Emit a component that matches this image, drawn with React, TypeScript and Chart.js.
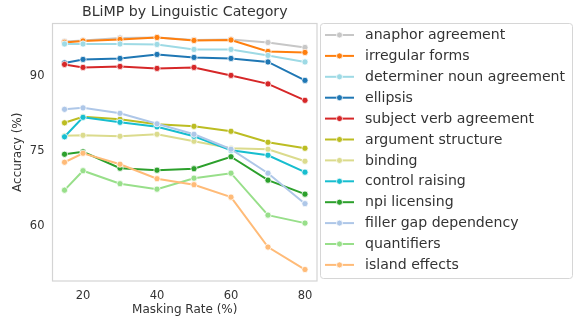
import React, { useEffect, useRef } from "react";
import { Chart, registerables } from "chart.js";

Chart.register(...registerables);

const maskingRates = [15, 20, 30, 40, 50, 60, 70, 80];
const xTicks = [20, 40, 60, 80];
const yTicks = [60, 75, 90];

const seriesNames = [
  "anaphor agreement",
  "irregular forms",
  "determiner noun agreement",
  "ellipsis",
  "subject verb agreement",
  "argument structure",
  "binding",
  "control raising",
  "npi licensing",
  "filler gap dependency",
  "quantifiers",
  "island effects",
];

const seriesColors = [
  "#c7c7c7",
  "#ff7f0e",
  "#9edae5",
  "#1f77b4",
  "#d62728",
  "#bcbd22",
  "#dbdb8d",
  "#17becf",
  "#2ca02c",
  "#aec7e8",
  "#98df8a",
  "#ffbb78",
];

const anaphorAgreement = [96.9, 97.1, 97.6, 97.7, 97.2, 97.3, 96.7, 95.7];
const irregularForms = [96.7, 97.0, 97.3, 97.7, 97.1, 97.2, 94.9, 94.7];
const determinerNounAgreement = [96.4, 96.4, 96.4, 96.3, 95.3, 95.3, 94.1, 92.8];
const ellipsis = [92.6, 93.3, 93.5, 94.3, 93.7, 93.5, 92.8, 89.1];
const subjectVerbAgreement = [92.3, 91.7, 91.9, 91.5, 91.7, 90.1, 88.4, 85.1];
const argumentStructure = [80.6, 81.8, 81.3, 80.3, 79.9, 78.9, 76.7, 75.5];
const binding = [78.0, 78.1, 77.9, 78.3, 76.9, 75.5, 75.3, 72.9];
const controlRaising = [77.8, 81.7, 80.7, 79.8, 77.9, 75.1, 74.1, 70.7];
const npiLicensing = [74.3, 74.8, 71.5, 71.1, 71.4, 73.8, 69.1, 66.3];
const fillerGapDependency = [83.3, 83.6, 82.5, 80.4, 78.3, 75.3, 70.5, 64.4];
const quantifiers = [67.1, 71.0, 68.4, 67.3, 69.5, 70.5, 62.1, 60.5];
const islandEffects = [72.7, 74.5, 72.3, 69.4, 68.2, 65.7, 55.7, 51.2];

const seriesValues = [
  anaphorAgreement,
  irregularForms,
  determinerNounAgreement,
  ellipsis,
  subjectVerbAgreement,
  argumentStructure,
  binding,
  controlRaising,
  npiLicensing,
  fillerGapDependency,
  quantifiers,
  islandEffects,
];

const titleText = "BLiMP by Linguistic Category";
const FONT = "'DejaVu Sans', sans-serif";
const TEXT_COLOR = "#333333";

const framePlugin = {
  id: "frameAndExtras",
  beforeDatasetsDraw(chart: any) {
    const { ctx, chartArea } = chart;
    ctx.save();
    ctx.strokeStyle = "#d4d4d4";
    ctx.lineWidth = 1.2;
    ctx.strokeRect(chartArea.left, chartArea.top, chartArea.right - chartArea.left, chartArea.bottom - chartArea.top);
    ctx.restore();
  },
  afterDraw(chart: any) {
    const { ctx, chartArea } = chart;
    ctx.save();
    // title
    ctx.fillStyle = TEXT_COLOR;
    ctx.font = `14.2px ${FONT}`;
    ctx.textAlign = "center";
    ctx.textBaseline = "middle";
    ctx.fillText(titleText, (chartArea.left + chartArea.right) / 2, 12.5);

    // legend
    const bx = 320.5, by = 23.5, bw = 252, bh = 255;
    ctx.beginPath();
    (ctx as any).roundRect(bx, by, bw, bh, 3);
    ctx.fillStyle = "#ffffff";
    ctx.fill();
    ctx.strokeStyle = "#d6d6d6";
    ctx.lineWidth = 1;
    ctx.stroke();

    const rowH = 20.9;
    seriesNames.forEach((name, i) => {
      const y = 35 + i * rowH;
      const c = seriesColors[i];
      ctx.strokeStyle = c;
      ctx.lineWidth = 2;
      ctx.beginPath();
      ctx.moveTo(325, y);
      ctx.lineTo(354, y);
      ctx.stroke();
      ctx.beginPath();
      ctx.arc(339.5, y, 3, 0, Math.PI * 2);
      ctx.fillStyle = c;
      ctx.fill();
      ctx.strokeStyle = "#ffffff";
      ctx.lineWidth = 0.75;
      ctx.stroke();
      ctx.fillStyle = TEXT_COLOR;
      ctx.font = `14.1px ${FONT}`;
      ctx.textAlign = "left";
      ctx.textBaseline = "middle";
      ctx.fillText(name, 365, y + 0.5);
    });
    ctx.restore();
  },
};

export default function App() {
  const canvasRef = useRef<HTMLCanvasElement | null>(null);

  useEffect(() => {
    if (!canvasRef.current) return;
    const n = seriesNames.length;
    const datasets = seriesNames.map((name, i) => ({
      label: name,
      data: maskingRates.map((x, j) => ({ x, y: seriesValues[i][j] })),
      borderColor: seriesColors[i],
      backgroundColor: seriesColors[i],
      pointBackgroundColor: seriesColors[i],
      pointBorderColor: "#ffffff",
      pointBorderWidth: 0.75,
      pointRadius: 3.1,
      borderWidth: 2,
      tension: 0,
      order: n - 1 - i,
    }));

    const chart = new Chart(canvasRef.current, {
      type: "line",
      data: { datasets },
      plugins: [framePlugin],
      options: {
        responsive: false,
        animation: false,
        layout: { padding: { top: 23.5, right: 258, left: 0, bottom: 0 } },
        plugins: {
          legend: { display: false },
          title: { display: false },
          tooltip: { enabled: false },
        },
        scales: {
          x: {
            type: "linear",
            min: 11.75,
            max: 83.25,
            grid: { display: false, drawTicks: false },
            border: { display: false },
            afterBuildTicks: (s: any) => {
              s.ticks = xTicks.map((v) => ({ value: v }));
            },
            afterFit: (s: any) => {
              s.height = 37;
            },
            ticks: {
              color: TEXT_COLOR,
              font: { family: FONT, size: 11.5 },
              padding: 8,
              maxRotation: 0,
              callback: (v: any) => String(v),
            },
            title: {
              display: true,
              text: "Masking Rate (%)",
              color: TEXT_COLOR,
              font: { family: FONT, size: 12 },
              padding: { top: 0, bottom: 0.8 },
            },
          },
          y: {
            type: "linear",
            min: 48.9,
            max: 100.5,
            grid: { display: false, drawTicks: false },
            border: { display: false },
            afterBuildTicks: (s: any) => {
              s.ticks = yTicks.map((v) => ({ value: v }));
            },
            afterFit: (s: any) => {
              s.width = 52.5;
            },
            ticks: {
              color: TEXT_COLOR,
              font: { family: FONT, size: 11.5 },
              padding: 8,
              callback: (v: any) => String(v),
            },
            title: {
              display: true,
              text: "Accuracy (%)",
              color: TEXT_COLOR,
              font: { family: FONT, size: 12 },
              padding: { top: 11.1, bottom: 0 },
            },
          },
        },
      } as any,
    });
    return () => chart.destroy();
  }, []);

  return (
    <div style={{ position: "absolute", left: 0, top: 0, width: 575, height: 318, background: "#ffffff" }}>
      <canvas ref={canvasRef} width={575} height={318} style={{ display: "block", width: 575, height: 318 }} />
    </div>
  );
}
